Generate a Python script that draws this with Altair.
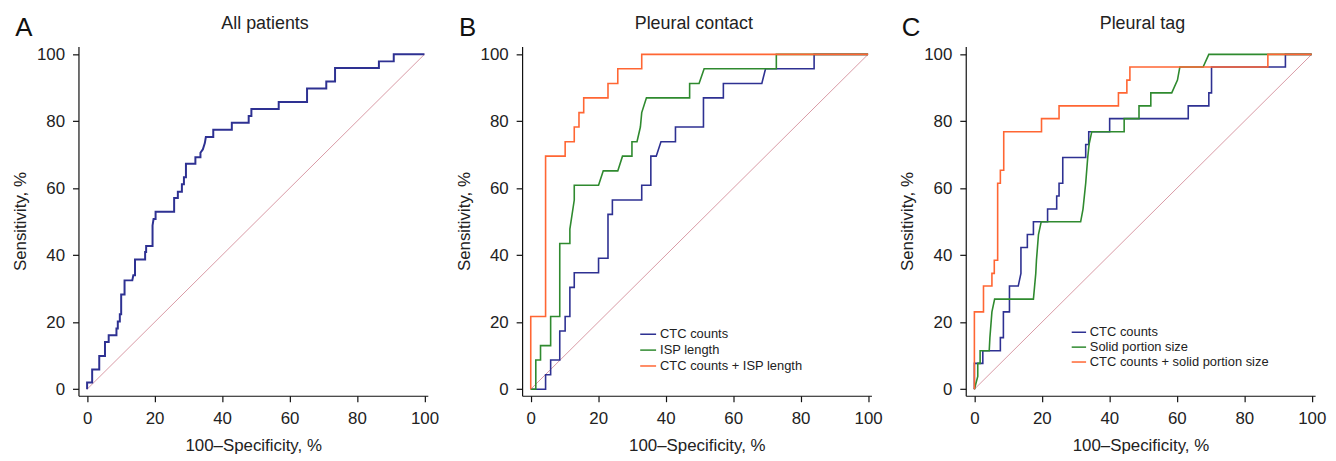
import altair as alt
import pandas as pd

panel_letters = ["A", "B", "C"]
panel_titles = ["All patients", "Pleural contact", "Pleural tag"]
tick_values = [0, 20, 40, 60, 80, 100]
x_title = "100\u2013Specificity, %"
y_title = "Sensitivity, %"
diag_fpr = [0, 100]
diag_tpr = [0, 100]

# (100 - specificity, sensitivity) vertices of each ROC curve, in %
a_all = [(0, 0), (0, 2.0), (1.5, 2.0), (1.5, 5.9), (3.6, 5.9), (3.6, 9.9), (5.3, 9.9), (5.3, 14.1),
         (6.4, 14.1), (6.4, 16.1), (8.7, 16.1), (8.7, 18.1), (9.1, 18.1), (9.1, 20.2), (9.7, 20.2),
         (9.7, 22.4), (10.1, 22.4), (10.1, 28.3), (11.1, 28.3), (11.1, 32.5), (13.4, 32.5),
         (13.7, 34.0), (14.2, 34.0), (14.2, 38.7), (17.2, 38.7), (17.2, 41.0), (17.5, 41.0),
         (17.5, 42.8), (19.4, 42.8), (19.4, 48.9), (19.7, 50.8), (20.3, 50.8), (20.3, 53.0),
         (25.8, 53.0), (25.8, 57.1), (26.9, 57.1), (26.9, 59.0), (28.1, 59.0), (28.1, 61.2),
         (28.7, 61.2), (28.7, 63.3), (29.3, 63.3), (29.3, 67.3), (32.1, 67.3), (32.1, 69.3),
         (33.6, 69.3), (33.6, 70.6), (34.3, 71.6), (34.9, 73.5), (35.2, 75.3), (37.4, 75.3),
         (37.4, 77.5), (42.9, 77.5), (42.9, 79.6), (47.9, 79.6), (47.9, 81.6), (48.7, 81.6),
         (48.7, 83.7), (56.8, 83.7), (56.8, 85.8), (65.2, 85.8), (65.2, 89.8), (70.9, 89.8),
         (70.9, 91.9), (73.5, 91.9), (73.5, 95.9), (86.5, 95.9), (86.5, 97.9), (90.9, 97.9),
         (90.9, 100), (100, 100)]

b_ctc = [(0, 0), (4.4, 0), (4.4, 4.3), (5.9, 4.3), (5.9, 8.7), (8.6, 8.7), (8.6, 17.4), (10.2, 17.4),
         (10.2, 21.7), (11.6, 21.7), (11.6, 30.4), (12.9, 30.4), (12.9, 34.8), (20.1, 34.8),
         (20.1, 39.1), (22.9, 39.1), (22.9, 52.2), (24.2, 52.2), (24.2, 56.5), (32.9, 56.5),
         (32.9, 60.9), (35.6, 60.9), (35.6, 69.6), (37.2, 69.6), (38.6, 73.9), (42.9, 73.9),
         (42.9, 78.3), (51.2, 78.3), (51.2, 87.0), (57.1, 87.0), (57.1, 91.3), (68.5, 91.3),
         (69.6, 95.7), (84.0, 95.7), (84.0, 100), (100, 100)]
b_isp = [(0, 0), (1.5, 0), (1.5, 8.7), (2.9, 8.7), (2.9, 13.0), (5.9, 13.0), (5.9, 21.7), (8.6, 21.7),
         (8.6, 43.5), (11.6, 43.5), (11.6, 47.8), (12.9, 56.5), (12.9, 60.9), (20.1, 60.9),
         (21.5, 65.2), (25.8, 65.2), (27.2, 69.6), (30.0, 69.6), (30.0, 73.9), (31.5, 73.9),
         (32.5, 78.3), (32.9, 82.6), (34.3, 87.0), (47.1, 87.0), (47.1, 91.3), (49.9, 91.3),
         (51.4, 95.7), (72.8, 95.7), (72.8, 100), (100, 100)]
b_combo = [(0, 0), (0, 21.7), (4.4, 21.7), (4.4, 69.6), (10.2, 69.6), (10.2, 73.9), (12.9, 73.9),
           (12.9, 78.3), (14.3, 78.3), (14.3, 82.6), (15.7, 82.6), (15.7, 87.0), (22.9, 87.0),
           (22.9, 91.3), (25.8, 91.3), (25.8, 95.7), (32.9, 95.7), (32.9, 100), (100, 100)]

c_ctc = [(0, 0), (0, 7.7), (2.5, 7.7), (2.5, 11.5), (7.7, 11.5), (7.7, 15.4), (8.6, 15.4), (8.6, 23.1),
         (10.4, 23.1), (10.4, 30.8), (13.0, 30.8), (13.8, 34.6), (13.8, 42.3), (15.7, 42.3),
         (15.7, 46.2), (17.5, 46.2), (17.5, 50.0), (21.7, 50.0), (21.7, 53.8), (24.4, 53.8),
         (24.4, 57.7), (25.1, 57.7), (25.1, 61.5), (26.2, 61.5), (26.2, 69.2), (33.0, 69.2),
         (33.0, 73.1), (33.9, 73.1), (33.9, 76.9), (40.1, 76.9), (40.1, 80.8), (63.4, 80.8),
         (63.4, 84.6), (69.5, 84.6), (69.5, 88.5), (70.3, 88.5), (70.3, 96.2), (92.2, 96.2),
         (92.2, 100), (100, 100)]
c_solid = [(0, 0), (1.0, 3.8), (1.0, 7.7), (1.7, 7.7), (1.7, 11.5), (4.4, 11.5), (4.6, 15.4),
           (5.2, 23.1), (6.0, 26.9), (17.5, 26.9), (18.2, 34.6), (18.4, 38.5), (19.0, 46.2),
           (19.8, 50.0), (31.5, 50.0), (32.2, 53.8), (33.0, 61.5), (33.6, 69.2), (34.0, 73.1),
           (34.8, 76.9), (44.4, 76.9), (44.4, 80.8), (48.8, 80.8), (48.8, 84.6), (52.3, 84.6),
           (52.3, 88.5), (58.5, 88.5), (60.2, 92.3), (60.9, 96.2), (67.8, 96.2), (69.5, 100),
           (100, 100)]
c_combo = [(0, 0), (0, 23.1), (2.7, 23.1), (2.7, 30.8), (5.2, 30.8), (5.2, 34.6), (5.9, 34.6),
           (5.9, 38.5), (6.9, 38.5), (6.9, 61.5), (7.7, 61.5), (7.7, 65.4), (8.7, 65.4), (8.7, 76.9),
           (19.9, 76.9), (19.9, 80.8), (25.1, 80.8), (25.1, 84.6), (42.7, 84.6), (42.7, 88.5),
           (45.2, 88.5), (45.2, 92.3), (46.1, 92.3), (46.1, 96.2), (87.0, 96.2), (87.0, 100),
           (100, 100)]

a_names = ["All patients"]
b_names = ["CTC counts", "ISP length", "CTC counts + ISP length"]
c_names = ["CTC counts", "Solid portion size", "CTC counts + solid portion size"]

BLUE, GREEN, ORANGE = "#2e3192", "#2f8a2f", "#ff6633"
DIAG = "#d99aa5"
FONT = "Liberation Sans"

X_DOMAIN = [-2.56, 101]
Y_DOMAIN = [-1.96, 102.37]
W = 352
H = 352


def build_frame(curves, names):
    rows = []
    for name, pts in zip(names, curves):
        for i, (fx, ty) in enumerate(pts):
            rows.append({"series": name, "fpr": fx, "tpr": ty, "i": i})
    return pd.DataFrame(rows)


def panel(letter, title, curves, names, colors, title_dx, legend_x, legend_y, sym_size,
          stroke_w, show_legend):
    xenc = alt.X("fpr:Q", title=x_title,
                 scale=alt.Scale(domain=X_DOMAIN, nice=False, zero=False),
                 axis=alt.Axis(values=tick_values))
    yenc = alt.Y("tpr:Q", title=y_title,
                 scale=alt.Scale(domain=Y_DOMAIN, nice=False, zero=False),
                 axis=alt.Axis(values=tick_values))
    diag = alt.Chart(pd.DataFrame({"fpr": diag_fpr, "tpr": diag_tpr})).mark_line(
        color=DIAG, strokeWidth=1).encode(x=xenc, y=yenc)
    df = build_frame(curves, names)
    if show_legend:
        color = alt.Color("series:N", sort=names,
                          scale=alt.Scale(domain=names, range=colors),
                          legend=alt.Legend(title=None, orient="none", legendX=legend_x,
                                            legendY=legend_y,
                                            symbolType="stroke", symbolSize=sym_size,
                                            symbolStrokeWidth=1.5, labelFontSize=13,
                                            labelFont=FONT, labelColor="#222", labelLimit=400,
                                            labelOffset=3, rowPadding=0))
        lines = alt.Chart(df).mark_line(strokeWidth=stroke_w).encode(
            x=xenc, y=yenc, color=color, order=alt.Order("i:Q"))
    else:
        lines = alt.Chart(df).mark_line(strokeWidth=stroke_w, color=colors[0]).encode(
            x=xenc, y=yenc, detail="series:N", order=alt.Order("i:Q"))
    lab = alt.Chart(pd.DataFrame({"letter": [letter]})).mark_text(
        font=FONT, fontSize=26, align="center", baseline="alphabetic", color="#111").encode(
        text="letter:N", x=alt.value(-55), y=alt.value(-10))
    ttl = alt.Chart(pd.DataFrame({"title": [title]})).mark_text(
        font=FONT, fontSize=18, align="center", baseline="alphabetic", color="#222").encode(
        text="title:N", x=alt.value(W / 2 + title_dx), y=alt.value(-18))
    return alt.layer(diag, lines, lab, ttl).properties(width=W, height=H)


pa = panel(panel_letters[0], panel_titles[0], [a_all], a_names, [BLUE], 12, 0, 0, 256, 2.0, False)
pb = panel(panel_letters[1], panel_titles[1], [b_ctc, b_isp, b_combo], b_names,
           [BLUE, GREEN, ORANGE], -3, 118, 281, 256, 1.6, True)
pc = panel(panel_letters[2], panel_titles[2], [c_ctc, c_solid, c_combo], c_names,
           [BLUE, GREEN, ORANGE], 2, 106, 280, 210, 1.6, True)

chart = alt.hconcat(pa, pb, pc, spacing=95, bounds="flush").resolve_scale(
    color="independent").properties(
    padding={"left": 3, "top": 5, "right": 2, "bottom": 2}
).configure_view(stroke=None).configure_axis(
    grid=False, tickSize=6, labelFontSize=17, titleFontSize=17, labelFont=FONT, titleFont=FONT,
    titleFontWeight="normal", labelColor="#222", titleColor="#222", domainColor="#111",
    tickColor="#111", domainWidth=1.2, tickWidth=1.2
).configure_axisY(labelPadding=8, titlePadding=7).configure_axisX(labelPadding=9, titlePadding=11)

chart.save("out.html", embed_options={"renderer": "svg", "actions": False})
